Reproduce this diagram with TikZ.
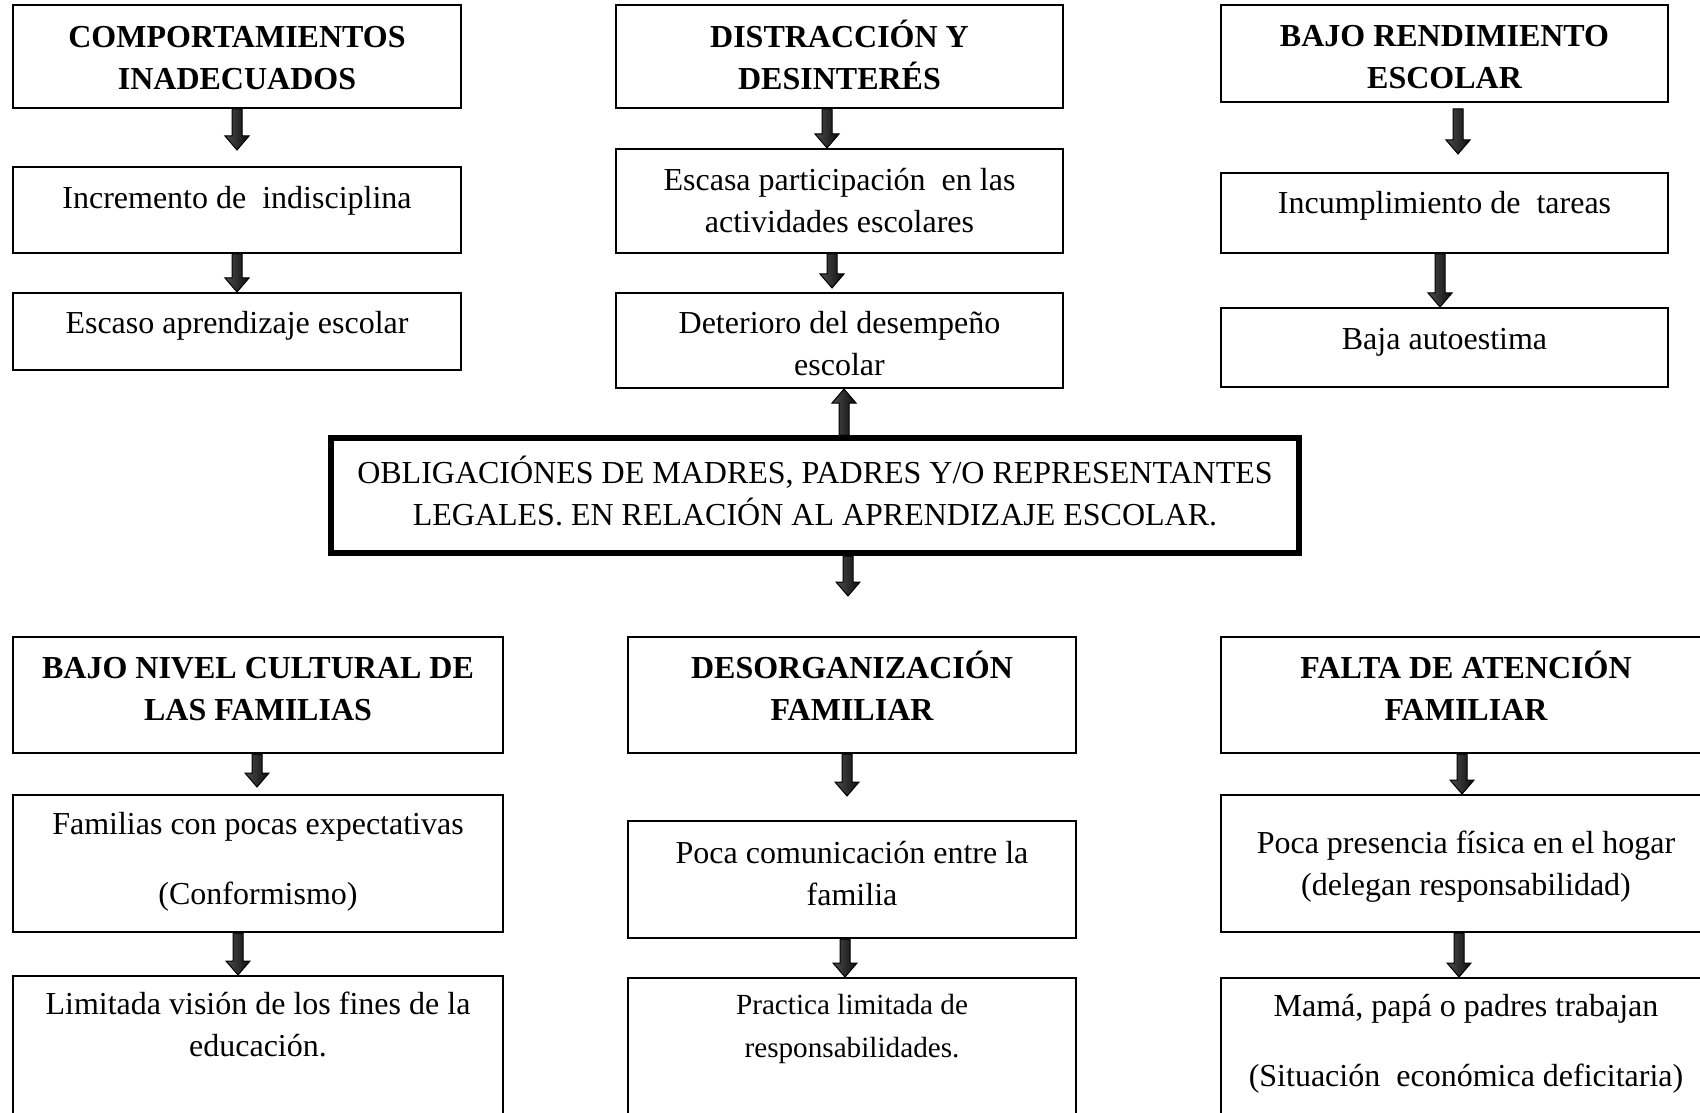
\documentclass[tikz,border=0pt]{standalone}
\usepackage{fontspec}
\setmainfont{Liberation Serif}
\usetikzlibrary{calc}

% flecha de bloque con sombra, de #1 hacia #2 (vertical)
\newcommand{\formaflecha}{(\x1-2.5pt,\y1) -- (\x1+2.5pt,\y1) -- (\x1+2.5pt,\y2+\n1*1pt) -- (\x1+6pt,\y2+\n1*1pt) -- (\x1,\y2) -- (\x1-6pt,\y2+\n1*1pt) -- (\x1-2.5pt,\y2+\n1*1pt) -- cycle}
\newcommand{\flecha}[2]{%
  \fill[black!40, xshift=2pt, yshift=-3pt] let \p1=#1, \p2=#2, \n1={ifthenelse(\y1>\y2,7,-7)} in \formaflecha;
  \draw[line width=0.5pt, left color=black!70, middle color=black!15, right color=black!95] let \p1=#1, \p2=#2, \n1={ifthenelse(\y1>\y2,7,-7)} in \formaflecha;
}

\begin{document}
\begin{tikzpicture}[x=0.5pt,y=-0.5pt,
    caja/.style={draw, line width=1pt, align=center, inner sep=0pt,
      font=\fontsize{16}{21}\selectfont},
    titulo/.style={caja, font=\bfseries\fontsize{16}{21}\selectfont},
    abierta/.style={caja, anchor=north, inner ysep=8pt, text depth=70pt}]
\useasboundingbox (0,0) rectangle (1700,1112);
\clip (0,0) rectangle (1700,1112);

% fila de arriba
\node[titulo, minimum width=224pt, minimum height=51.5pt] (comp) at (237,56.5) {\rule{0pt}{12pt}COMPORTAMIENTOS\\INADECUADOS};
\node[titulo, minimum width=223.5pt, minimum height=51.5pt, text depth=2pt] (dist) at (839.5,56.5) {DISTRACCIÓN Y\\DESINTERÉS};
\node[titulo, minimum width=223.5pt, minimum height=48.5pt] (bajo) at (1444.5,53.5) {\rule{0pt}{14pt}BAJO RENDIMIENTO\\ESCOLAR};

\node[caja, minimum width=224pt, minimum height=43pt, text depth=13pt] (incr) at (237,210) {Incremento de~ indisciplina};
\node[caja, minimum width=223.5pt, minimum height=52pt] (part) at (839.5,201) {Escasa participación~ en las\\actividades escolares};
\node[caja, minimum width=223.5pt, minimum height=40pt, text depth=10.5pt] (incu) at (1444.5,213) {Incumplimiento de~ tareas};

\node[caja, minimum width=224pt, minimum height=38.5pt, text depth=8.7pt] (escaso) at (237,331.5) {Escaso aprendizaje escolar};
\node[caja, minimum width=223.5pt, minimum height=47.5pt] (det) at (839.5,340.5) {\rule{0pt}{14.5pt}Deterioro del desempeño\\escolar};
\node[caja, minimum width=223.5pt, minimum height=39.5pt, text depth=8.7pt] (estima) at (1444.5,347.5) {Baja autoestima};

% recuadro central
\node[caja, line width=3pt, minimum width=484pt, minimum height=57.5pt, text depth=5pt] (obl) at (815,495.5) {OBLIGACIÓNES DE MADRES, PADRES Y/O REPRESENTANTES\\LEGALES. EN RELACIÓN AL APRENDIZAJE ESCOLAR.};
\coordinate (bajada) at (848,596);

% fila de abajo
\node[titulo, minimum width=245pt, minimum height=58pt, text depth=6pt] (cult) at (258,695) {BAJO NIVEL CULTURAL DE\\LAS FAMILIAS};
\node[titulo, minimum width=224pt, minimum height=58pt, text depth=9pt] (desorg) at (852,695) {DESORGANIZACIÓN\\FAMILIAR};
\node[titulo, minimum width=245pt, minimum height=58pt, text depth=9pt] (falta) at (1466,695) {FALTA DE ATENCIÓN\\FAMILIAR};

\node[caja, minimum width=245pt, minimum height=68.5pt, text depth=4.7pt] (expec) at (258,863.5) {Familias con pocas expectativas\\[14pt](Conformismo)};
\node[caja, minimum width=224pt, minimum height=58.5pt, text depth=6.5pt] (comu) at (852,879.5) {Poca comunicación entre la\\familia};
\node[caja, minimum width=245pt, minimum height=68.5pt, text depth=0pt] (pres) at (1466,863.5) {Poca presencia física en el hogar\\(delegan responsabilidad)};

\node[abierta, minimum width=245pt] (vision) at (258,975) {Limitada visión de los fines de la\\educación.};
\node[abierta, minimum width=224pt, font=\fontsize{14.6}{21.5}\selectfont] (pract) at (852,977) {Practica limitada de\\responsabilidades.};
\node[abierta, minimum width=245pt] (trab) at (1466,977) {Mamá, papá o padres trabajan\\[14pt](Situación~ económica deficitaria)};

% flechas
\flecha{(comp.south)}{([yshift=8pt]incr.north)}
\flecha{(incr.south)}{(escaso.north)}
\flecha{([xshift=-6.25pt]dist.south)}{(part.north)}
\flecha{([xshift=-3.75pt]part.south)}{([yshift=2pt]det.north)}
\flecha{([xshift=6.75pt,yshift=-3pt]bajo.south)}{([yshift=9pt]incu.north)}
\flecha{([xshift=-2.25pt]incu.south)}{(estima.north)}
\flecha{($(obl.north -| det.south)+(4.5,0)$)}{(det.south)}
\flecha{($(obl.south -| desorg.north)+(-4,0)$)}{(bajada)}
\flecha{([xshift=-0.5pt]cult.south)}{([yshift=3.5pt]expec.north)}
\flecha{([xshift=-10pt]expec.south)}{(vision.north)}
\flecha{([xshift=-2.5pt]desorg.south)}{([yshift=12pt]comu.north)}
\flecha{([xshift=-3.5pt]comu.south)}{(pract.north)}
\flecha{([xshift=-2pt]falta.south)}{(pres.north)}
\flecha{([xshift=-3.5pt]pres.south)}{(trab.north)}
\end{tikzpicture}
\end{document}
